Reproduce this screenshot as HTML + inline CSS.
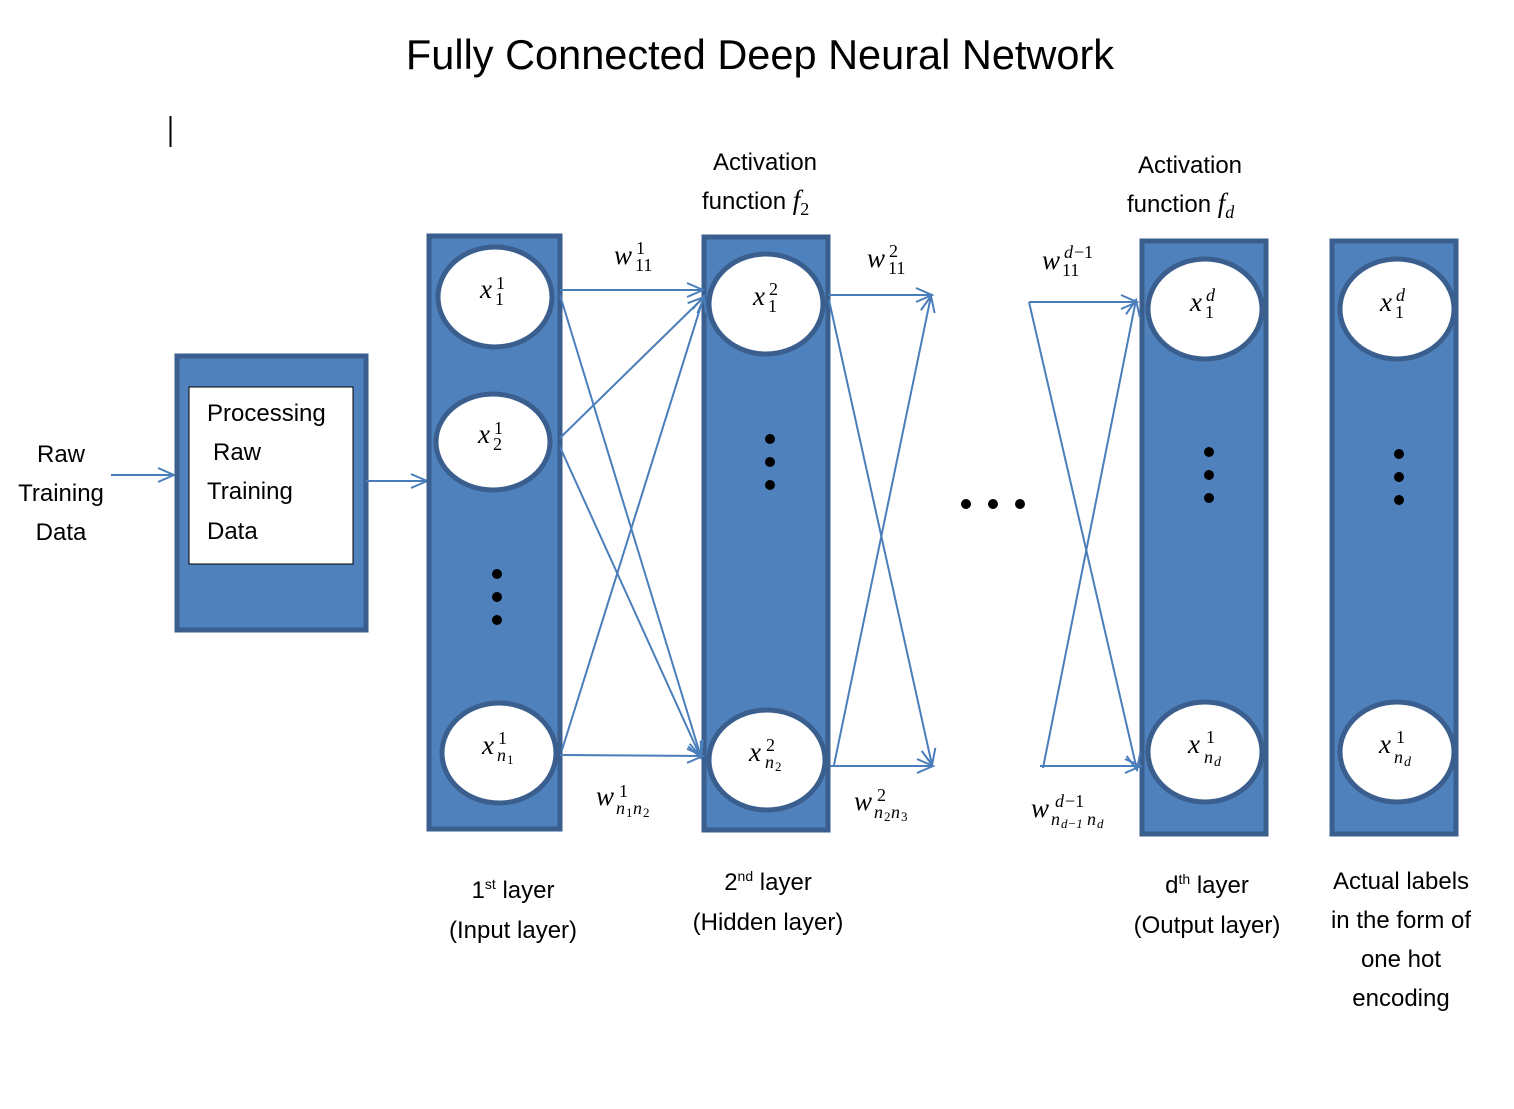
<!DOCTYPE html>
<html><head><meta charset="utf-8"><style>
html,body{margin:0;padding:0;background:#fff;}
svg{display:block;}
.t{font-family:"Liberation Sans",sans-serif;font-size:24px;fill:#000;}
.m{font-family:"Liberation Serif",serif;font-style:italic;font-size:27px;fill:#000;}
.s{font-family:"Liberation Serif",serif;font-style:normal;font-size:18px;}
.si{font-family:"Liberation Serif",serif;font-style:italic;font-size:18px;}
.col{fill:#4F81BD;stroke:#3A5F8E;stroke-width:5;}
.nd{fill:#fff;stroke:#3A5F8E;stroke-width:5;}
.ln{stroke:#4A7EBB;stroke-width:2;fill:none;}
</style></head><body>
<svg width="1514" height="1109" viewBox="0 0 1514 1109" xmlns="http://www.w3.org/2000/svg">
<defs><marker id="a" markerWidth="20" markerHeight="20" refX="17" refY="8" orient="auto" markerUnits="userSpaceOnUse"><path d="M1,1 L17,8 L1,15" fill="none" stroke="#4A7EBB" stroke-width="2"/></marker></defs>
<text x="760" y="69" text-anchor="middle" style="font-family:'Liberation Sans',sans-serif;font-size:41.5px">Fully Connected Deep Neural Network</text>
<line x1="170.5" y1="116" x2="170.5" y2="147" stroke="#000" stroke-width="2"/>

<text class="t" x="61" y="462" text-anchor="middle">Raw</text>
<text class="t" x="61" y="501" text-anchor="middle">Training</text>
<text class="t" x="61" y="540" text-anchor="middle">Data</text>
<line class="ln" x1="111" y1="475" x2="174" y2="475" marker-end="url(#a)"/>
<rect class="col" x="177" y="356" width="189" height="274"/>
<rect x="189" y="387" width="164" height="177" fill="#fff" stroke="#000" stroke-width="1"/>
<text class="t" x="207" y="421">Processing</text>
<text class="t" x="213" y="460">Raw</text>
<text class="t" x="207" y="499">Training</text>
<text class="t" x="207" y="539">Data</text>
<line class="ln" x1="366" y1="481" x2="427" y2="481" marker-end="url(#a)"/>

<rect class="col" x="429" y="236" width="131" height="593"/>
<rect class="col" x="704" y="237" width="124" height="593"/>
<rect class="col" x="1142" y="241" width="124" height="593"/>
<rect class="col" x="1332" y="241" width="124" height="593"/>

<line class="ln" x1="560" y1="290" x2="703" y2="290" marker-end="url(#a)"/>
<line class="ln" x1="560" y1="295" x2="701" y2="757" marker-end="url(#a)"/>
<line class="ln" x1="560" y1="438" x2="704" y2="297" marker-end="url(#a)"/>
<line class="ln" x1="560" y1="447" x2="701" y2="758" marker-end="url(#a)"/>
<line class="ln" x1="562" y1="750" x2="704" y2="296" marker-end="url(#a)"/>
<line class="ln" x1="560" y1="755" x2="703" y2="756" marker-end="url(#a)"/>

<line class="ln" x1="828" y1="295" x2="932" y2="295" marker-end="url(#a)"/>
<line class="ln" x1="829" y1="300" x2="932" y2="765" marker-end="url(#a)"/>
<line class="ln" x1="834" y1="765" x2="931" y2="296" marker-end="url(#a)"/>
<line class="ln" x1="830" y1="766" x2="933" y2="766" marker-end="url(#a)"/>

<line class="ln" x1="1029" y1="302" x2="1137" y2="302" marker-end="url(#a)"/>
<line class="ln" x1="1029" y1="302" x2="1137" y2="770" marker-end="url(#a)"/>
<line class="ln" x1="1043" y1="768" x2="1136" y2="300" marker-end="url(#a)"/>
<line class="ln" x1="1040" y1="766" x2="1141" y2="766" marker-end="url(#a)"/>

<ellipse class="nd" cx="495" cy="297" rx="57" ry="50"/>
<ellipse class="nd" cx="493" cy="442" rx="57" ry="48"/>
<ellipse class="nd" cx="499" cy="753" rx="57" ry="50"/>
<ellipse class="nd" cx="766" cy="304" rx="57" ry="50"/>
<ellipse class="nd" cx="767" cy="760" rx="58" ry="50"/>
<ellipse class="nd" cx="1205" cy="309" rx="57" ry="50"/>
<ellipse class="nd" cx="1205" cy="752" rx="57" ry="50"/>
<ellipse class="nd" cx="1397" cy="309" rx="57" ry="50"/>
<ellipse class="nd" cx="1397" cy="752" rx="57" ry="50"/>

<g fill="#000">
<circle cx="497" cy="574" r="5"/><circle cx="497" cy="597" r="5"/><circle cx="497" cy="620" r="5"/>
<circle cx="770" cy="439" r="5"/><circle cx="770" cy="462" r="5"/><circle cx="770" cy="485" r="5"/>
<circle cx="1209" cy="452" r="5"/><circle cx="1209" cy="475" r="5"/><circle cx="1209" cy="498" r="5"/>
<circle cx="1399" cy="454" r="5"/><circle cx="1399" cy="477" r="5"/><circle cx="1399" cy="500" r="5"/>
<circle cx="966" cy="504" r="5"/><circle cx="993" cy="504" r="5"/><circle cx="1020" cy="504" r="5"/>
</g>

<text class="m" x="480" y="298">x<tspan class="s" x="496" y="289">1</tspan><tspan class="s" x="495" y="305">1</tspan></text>
<text class="m" x="478" y="443">x<tspan class="s" x="494" y="434">1</tspan><tspan class="s" x="493" y="450">2</tspan></text>
<text class="m" x="482" y="754">x<tspan class="s" x="498" y="744">1</tspan><tspan class="si" x="497" y="761">n</tspan><tspan class="s" style="font-size:13px" x="507" y="764">1</tspan></text>
<text class="m" x="753" y="305">x<tspan class="s" x="769" y="295">2</tspan><tspan class="s" x="768" y="312">1</tspan></text>
<text class="m" x="749" y="761">x<tspan class="s" x="766" y="751">2</tspan><tspan class="si" x="765" y="768">n</tspan><tspan class="s" style="font-size:13px" x="775" y="771">2</tspan></text>
<text class="m" x="1190" y="311">x<tspan class="si" x="1206" y="301">d</tspan><tspan class="s" x="1205" y="318">1</tspan></text>
<text class="m" x="1188" y="753">x<tspan class="s" x="1206" y="743">1</tspan><tspan class="si" x="1204" y="763">n</tspan><tspan class="si" style="font-size:14px" x="1214" y="766">d</tspan></text>
<text class="m" x="1380" y="311">x<tspan class="si" x="1396" y="301">d</tspan><tspan class="s" x="1395" y="318">1</tspan></text>
<text class="m" x="1379" y="753">x<tspan class="s" x="1396" y="743">1</tspan><tspan class="si" x="1394" y="763">n</tspan><tspan class="si" style="font-size:14px" x="1404" y="766">d</tspan></text>

<text class="m" x="614" y="264">w<tspan class="s" x="636" y="254">1</tspan><tspan class="s" x="635" y="271">11</tspan></text>
<text class="m" x="867" y="267">w<tspan class="s" x="889" y="257">2</tspan><tspan class="s" x="888" y="274">11</tspan></text>
<text class="m" x="1042" y="269">w<tspan class="si" x="1064" y="258">d</tspan><tspan class="s" x="1074" y="258">−1</tspan><tspan class="s" x="1062" y="276">11</tspan></text>
<text class="m" x="596" y="805">w<tspan class="s" x="619" y="797">1</tspan><tspan class="si" x="616" y="814">n</tspan><tspan class="s" style="font-size:13px" x="626" y="817">1</tspan><tspan class="si" x="633" y="814">n</tspan><tspan class="s" style="font-size:13px" x="643" y="817">2</tspan></text>
<text class="m" x="854" y="810">w<tspan class="s" x="877" y="801">2</tspan><tspan class="si" x="874" y="818">n</tspan><tspan class="s" style="font-size:13px" x="884" y="821">2</tspan><tspan class="si" x="891" y="818">n</tspan><tspan class="s" style="font-size:13px" x="901" y="821">3</tspan></text>
<text class="m" x="1031" y="817">w<tspan class="si" x="1055" y="807">d</tspan><tspan class="s" x="1065" y="807">−1</tspan><tspan class="si" x="1051" y="825">n</tspan><tspan class="si" style="font-size:13px" x="1061" y="828">d−1</tspan><tspan class="si" x="1087" y="825">n</tspan><tspan class="si" style="font-size:13px" x="1097" y="828">d</tspan></text>

<text class="t" x="765" y="170" text-anchor="middle">Activation</text>
<text class="t" x="702" y="209">function <tspan class="m">f</tspan><tspan class="s" dy="6">2</tspan></text>
<text class="t" x="1190" y="173" text-anchor="middle">Activation</text>
<text class="t" x="1127" y="212">function <tspan class="m">f</tspan><tspan class="si" dy="6">d</tspan></text>

<text class="t" x="513" y="898" text-anchor="middle">1<tspan style="font-size:14px" dy="-9">st</tspan><tspan dy="9"> layer</tspan></text>
<text class="t" x="513" y="938" text-anchor="middle">(Input layer)</text>
<text class="t" x="768" y="890" text-anchor="middle">2<tspan style="font-size:14px" dy="-9">nd</tspan><tspan dy="9"> layer</tspan></text>
<text class="t" x="768" y="930" text-anchor="middle">(Hidden layer)</text>
<text class="t" x="1207" y="893" text-anchor="middle">d<tspan style="font-size:14px" dy="-9">th</tspan><tspan dy="9"> layer</tspan></text>
<text class="t" x="1207" y="933" text-anchor="middle">(Output layer)</text>
<text class="t" x="1401" y="889" text-anchor="middle">Actual labels</text>
<text class="t" x="1401" y="928" text-anchor="middle">in the form of</text>
<text class="t" x="1401" y="967" text-anchor="middle">one hot</text>
<text class="t" x="1401" y="1006" text-anchor="middle">encoding</text>
</svg>
</body></html>
